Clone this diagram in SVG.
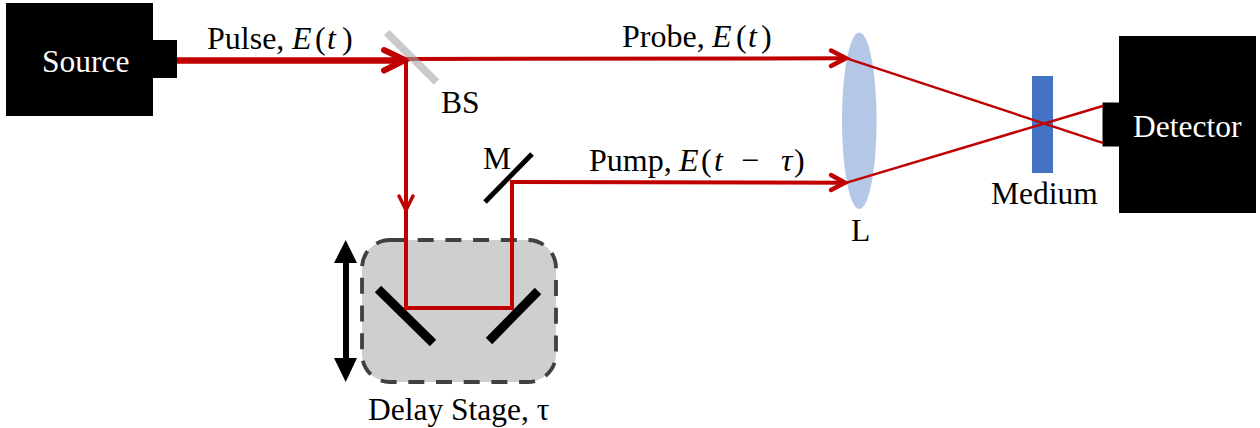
<svg xmlns="http://www.w3.org/2000/svg" width="1260" height="428" viewBox="0 0 1260 428">
<style>
text{font-family:"Liberation Serif","Times New Roman",serif;font-size:31.500px;fill:#000}
.w{fill:#fff}
.lab{font-size:32px}
.m{font-style:italic}
.beam{fill:none;stroke:#c00000;stroke-width:4}
.head{fill:none;stroke:#c00000;stroke-linecap:round;stroke-linejoin:miter}
.thin{fill:none;stroke:#c00000;stroke-width:2.400}
.mir{stroke:#000;stroke-width:9;fill:none}
</style>
<rect width="1260" height="428" fill="#fff"/>
<g id="delay-stage">
<rect x="362" y="240" width="194" height="142" rx="28" ry="28" fill="#d0cece" stroke="#404040" stroke-width="3.800" stroke-dasharray="16 11.700"/>
<path class="mir" d="M378 289L433 343"/>
<path class="mir" d="M538 291L489 341"/>
<path d="M345.700 240L357 263H349V358H357L345.700 382L334 358H343V263H334Z" fill="#000"/>
<text x="368" y="420">Delay Stage, τ</text>
</g>
<g id="lens">
<ellipse cx="859.300" cy="120.700" rx="17.300" ry="88.300" fill="#b4c7e7"/>
<text x="851" y="241">L</text>
</g>
<g id="medium">
<rect x="1032" y="76" width="21" height="97" fill="#4472c4"/>
<text x="991" y="204">Medium</text>
</g>
<g id="source">
<rect x="6" y="3" width="147" height="113" fill="#000"/>
<rect x="153" y="40" width="24" height="38" fill="#000"/>
<text class="w" x="42" y="71.500">Source</text>
</g>
<g id="detector">
<rect x="1119" y="36" width="137" height="177" fill="#000"/>
<rect x="1102.500" y="102.500" width="18" height="44" fill="#000"/>
<text class="w" x="1133" y="136.500">Detector</text>
</g>
<g id="m">
<path d="M485 202L532 154" stroke="#000" stroke-width="5" fill="none"/>
<text x="483" y="169">M</text>
</g>
<g id="connectors">
<path d="M177 60.500H404" fill="none" stroke="#c00000" stroke-width="6.500"/>
<path class="head" stroke-width="6" d="M384 50L405 60L384 70.500"/>
<path class="beam" d="M404 59L846 58.300"/>
<path class="head" stroke-width="4.500" d="M831 50.500L846 58.300L831 66"/>
<path class="beam" d="M406 60V308H512V182"/>
<path class="head" stroke-width="3.500" d="M399 196L406 210L413 196"/>
<path class="beam" d="M510 182L845 182.700"/>
<path class="head" stroke-width="4.500" d="M831 175L845 182.700L831 190"/>
<path class="thin" d="M846.700 58.300L1102.700 142.800"/>
<path class="thin" d="M846.700 182.700L1102.700 106"/>
</g>
<g id="bs">
<path d="M386.700 32.500L436.500 82" stroke="#a6a6a6" stroke-opacity=".6" stroke-width="7.500" fill="none"/>
<text x="441" y="113">BS</text>
</g>
<g id="labels">
<text class="lab" x="207" y="49">Pulse,<tspan class="m" x="292">E</tspan><tspan x="315">(</tspan><tspan class="m" x="327">t</tspan><tspan x="342">)</tspan></text>
<text class="lab" x="622" y="47">Probe,<tspan class="m" x="712">E</tspan><tspan x="736">(</tspan><tspan class="m" x="748">t</tspan><tspan x="761">)</tspan></text>
<text class="lab" x="589" y="171">Pump,<tspan class="m" x="679">E</tspan><tspan x="701">(</tspan><tspan class="m" x="714">t</tspan><tspan x="741">−</tspan><tspan class="m" x="781">τ</tspan><tspan x="794">)</tspan></text>
</g>
</svg>
